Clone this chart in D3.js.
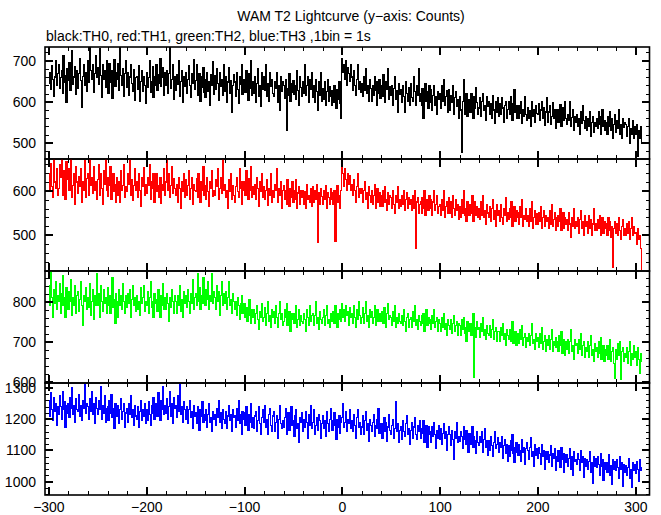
<!DOCTYPE html>
<html><head><meta charset="utf-8">
<script src="https://cdn.jsdelivr.net/npm/d3@7"></script>
<style>body{margin:0;background:#fff} text{font-family:"Liberation Sans",Arial,Helvetica,sans-serif;}</style>
</head><body>
<svg id="c" width="661" height="515"></svg>
<script>
const title = "WAM T2 Lightcurve (y\u2212axis: Counts)";
const subtitle = "black:TH0, red:TH1, green:TH2, blue:TH3 ,1bin = 1s";
const binStart = -300;   // time of first bin (s)
const binSize = 1;       // s
const xTicks = [-300,-200,-100,0,100,200,300];
const xTickLabels = ["\u2212300","\u2212200","\u2212100","0","100","200","300"];
const yTicksTH0 = [500,600,700];
const yTicksTH1 = [500,600];
const yTicksTH2 = [600,700,800];
const yTicksTH3 = [1000,1100,1200,1300];

const th0 = [
645,672,630,688,655,612,660,701,640,668,
690,632,658,675,620,711,648,663,598,680,
652,695,628,670,724,641,660,685,617,676,
633,668,704,651,587,662,690,640,672,625,
700,648,731,676,655,690,622,668,712,659,
682,641,729,663,610,690,655,676,634,700,
668,620,692,648,675,607,660,702,638,671,
655,693,627,735,664,640,681,612,668,699,
636,672,615,660,690,644,625,677,603,658,
662,630,688,601,650,676,625,660,640,595,
671,634,659,700,622,648,685,610,662,640,
690,628,667,645,705,638,660,682,615,672,
640,676,620,668,735,632,655,690,606,660,
628,665,642,700,612,650,676,598,660,638,
672,620,655,688,640,610,668,645,703,630,
652,690,615,640,668,601,660,635,682,622,
610,655,672,625,648,590,666,640,697,618,
663,630,680,644,604,670,638,655,615,690,
625,660,598,648,684,620,652,573,640,667,
648,612,670,630,595,660,642,690,618,635,
655,622,675,640,604,668,632,700,615,650,
620,662,598,645,680,612,640,588,670,630,
660,628,690,614,645,600,672,638,655,620,
612,650,633,672,598,640,580,660,625,648,
640,608,655,530,632,615,668,600,645,622,
652,618,640,605,676,628,590,660,635,612,
648,620,690,615,640,660,598,655,630,672,
610,640,598,655,625,580,648,615,670,600,
632,605,648,590,625,655,600,638,612,590,
628,598,640,612,585,630,605,650,595,560,
705,672,690,655,700,640,684,668,650,690,
660,628,675,640,615,655,690,630,648,622,
645,612,660,628,680,620,640,600,655,632,
600,640,615,660,628,590,648,620,655,608,
640,612,665,625,598,650,630,680,605,638,
615,640,590,632,660,605,628,575,645,618,
630,598,640,612,575,650,620,600,635,590,
645,610,600,660,625,590,640,615,680,600,
620,590,632,560,615,645,600,625,585,640,
598,630,580,615,640,590,612,570,625,605,
620,585,640,600,655,590,612,628,575,630,
580,615,598,640,570,610,625,588,605,560,
612,580,478,600,655,570,595,620,565,600,
605,575,620,590,560,612,585,635,598,570,
585,610,565,600,620,578,590,555,612,588,
600,570,595,560,615,580,548,600,575,610,
565,595,570,610,585,550,590,600,560,582,
600,570,612,580,555,595,630,575,590,560,
560,590,572,600,548,580,565,612,570,555,
585,560,578,540,600,565,580,550,590,572,
570,595,555,580,600,560,585,542,575,610,
550,575,590,545,565,598,560,580,535,570,
580,550,570,592,540,565,585,555,600,560,
545,570,555,600,540,562,580,530,565,550,
570,540,560,520,575,548,590,555,535,565,
530,560,540,575,515,550,565,525,550,540,
560,535,575,545,520,565,580,540,555,530,
550,520,565,540,575,530,560,510,545,570,
525,555,535,580,520,545,510,560,538,550,
545,515,540,560,500,535,520,555,510,540,
520,545,468,530,510,540,500];

const th1 = [
640,598,662,610,585,672,620,605,650,590,
605,660,630,672,590,645,618,580,665,625,
650,600,628,672,585,612,640,570,655,620,
595,632,610,650,575,620,600,668,585,628,
640,590,672,612,630,595,655,600,620,580,
625,660,590,640,605,570,645,615,672,600,
588,630,612,655,580,620,640,598,615,575,
630,590,620,575,645,600,612,660,585,610,
598,640,615,672,590,625,578,612,650,600,
620,585,640,600,565,630,610,652,590,615,
595,630,612,660,580,620,605,640,575,618,
640,598,612,585,630,572,615,600,650,590,
620,672,600,638,585,612,655,595,628,605,
590,615,575,630,605,560,622,598,640,585,
625,590,612,645,580,605,630,570,615,600,
598,628,585,640,610,575,620,600,655,590,
612,580,630,598,565,620,605,645,588,600,
590,625,610,650,580,605,630,595,672,600,
615,585,600,560,625,598,640,580,612,590,
575,610,630,598,585,650,605,570,620,600,
620,590,645,605,580,628,600,655,585,610,
592,615,580,630,605,565,620,598,640,585,
610,580,600,625,568,605,590,640,575,600,
585,615,600,650,575,605,590,622,560,600,
612,580,600,570,625,590,565,605,585,620,
575,600,580,625,560,595,610,570,600,585,
600,570,598,560,615,580,590,575,605,565,
610,575,600,580,615,483,595,570,605,588,
570,600,580,612,560,595,585,570,605,580,
595,570,600,486,580,612,575,590,560,600,
672,640,610,650,625,600,640,615,635,600,
615,590,625,600,575,610,640,585,605,595,
605,575,600,620,580,595,560,610,590,575,
600,570,590,615,560,588,605,575,595,565,
590,565,600,575,610,580,555,595,570,590,
585,560,600,570,548,590,575,610,560,580,
565,590,570,600,555,580,595,560,585,570,
580,555,590,560,600,471,575,585,550,570,
575,550,585,560,600,545,570,580,555,590,
560,580,545,575,600,555,570,590,550,565,
570,545,580,555,600,540,565,575,550,585,
550,575,540,590,560,545,580,555,570,535,
565,540,580,550,600,545,560,530,575,555,
545,570,550,590,530,560,575,545,565,540,
560,535,575,545,590,540,555,525,570,550,
540,565,530,560,580,535,555,520,570,545,
555,530,570,540,525,560,545,585,530,550,
535,560,540,575,520,550,565,530,555,540,
550,525,565,540,580,520,545,535,560,530,
545,520,560,530,575,515,540,555,525,548,
525,550,530,565,515,540,555,520,545,530,
540,515,555,525,570,520,535,550,510,540,
520,545,530,560,510,535,550,515,540,525,
535,510,550,525,495,540,520,560,515,530,
520,540,505,535,555,515,530,500,545,520,
530,505,545,515,535,500,525,560,510,525,
510,535,515,545,500,525,540,505,530,515,
525,500,540,510,530,495,520,427,515,530,
505,525,500,540,510,490,520,535,500,515,
500,525,505,530,490,515,540,500,520,505,
505,480,515,490,500,470,422];

const th2 = [
840,790,875,810,760,830,795,850,780,815,
800,845,770,820,865,790,810,760,835,805,
780,825,800,855,765,810,790,840,770,815,
825,775,805,850,790,740,815,800,835,780,
810,785,845,765,800,830,755,815,790,870,
790,820,760,840,800,775,830,795,810,770,
835,790,815,770,800,860,785,805,745,820,
800,760,830,790,815,780,845,800,770,815,
785,820,795,830,760,805,840,790,810,775,
815,780,800,765,835,795,810,840,775,800,
790,825,770,810,850,785,800,760,820,795,
805,775,830,795,760,815,790,845,780,810,
780,820,795,750,810,785,830,800,770,815,
800,770,815,790,840,775,805,760,825,795,
815,785,830,800,770,820,795,855,780,810,
820,790,870,800,835,780,815,795,860,805,
790,830,805,850,780,815,800,870,795,825,
810,780,840,800,825,765,815,850,790,820,
795,825,780,810,850,790,805,770,820,800,
780,800,765,810,790,755,795,815,770,790,
795,760,785,750,775,805,765,745,780,760,
780,745,770,790,755,730,775,760,795,750,
760,785,740,770,800,750,765,735,780,760,
775,745,790,760,735,770,800,755,770,740,
750,780,760,795,740,765,775,725,770,755,
770,745,760,790,735,755,780,740,765,750,
745,770,755,725,780,760,740,790,750,765,
770,740,765,800,745,760,730,775,755,745,
760,780,740,765,790,745,755,735,770,760,
750,775,745,790,760,735,770,755,780,750,
795,760,780,750,790,765,775,740,785,760,
770,745,790,760,735,780,755,800,765,745,
760,785,745,770,800,750,765,735,780,760,
775,745,760,790,740,765,780,750,770,755,
750,775,745,785,760,735,770,795,755,765,
760,740,775,750,790,735,760,745,770,750,
745,765,740,780,750,725,760,770,735,755,
760,735,775,750,790,740,755,730,765,750,
740,765,745,770,725,755,780,740,760,745,
755,730,765,745,780,735,750,760,725,755,
745,725,760,735,770,730,745,715,755,740,
730,755,720,745,765,725,740,750,715,745,
740,715,755,730,760,720,735,700,750,730,
725,745,715,740,770,612,735,710,750,730,
735,710,745,725,760,715,730,705,740,720,
715,740,710,730,755,705,725,735,700,725,
725,700,735,715,745,705,720,690,730,715,
705,730,700,720,750,695,715,725,690,720,
715,695,730,705,740,690,710,720,685,710,
700,720,690,715,745,695,705,680,720,700,
710,685,720,695,735,680,700,715,675,705,
690,715,680,705,730,675,700,690,710,685,
700,675,715,690,725,670,695,705,665,700,
680,705,670,700,730,675,690,655,705,690,
695,670,705,680,720,665,690,700,660,685,
675,700,660,690,715,665,680,650,695,675,
685,660,700,670,710,655,680,690,650,680,
665,690,655,680,705,650,675,685,645,608,
680,655,695,665,700,605,675,685,650,670,
660,685,645,675,700,640,670,655,690,660,
675,640,685,655,620,670,650];

const th3 = [
1260,1210,1285,1230,1195,1270,1225,1250,1180,1240,
1215,1275,1240,1200,1290,1230,1255,1175,1245,1220,
1250,1205,1270,1235,1300,1215,1245,1190,1265,1230,
1225,1280,1210,1245,1195,1260,1235,1310,1220,1250,
1240,1200,1265,1225,1290,1215,1250,1185,1270,1235,
1215,1260,1230,1305,1200,1245,1220,1275,1190,1235,
1240,1195,1260,1220,1280,1205,1235,1170,1250,1225,
1210,1245,1185,1230,1265,1200,1225,1250,1175,1220,
1235,1190,1250,1215,1275,1205,1230,1180,1245,1210,
1200,1240,1175,1225,1260,1195,1230,1210,1250,1185,
1230,1195,1255,1215,1180,1245,1220,1270,1200,1235,
1250,1210,1285,1225,1195,1260,1230,1305,1215,1245,
1220,1265,1200,1240,1290,1210,1250,1185,1270,1235,
1245,1205,1275,1225,1310,1215,1240,1190,1255,1230,
1200,1240,1185,1230,1260,1205,1225,1170,1245,1210,
1220,1185,1240,1200,1165,1230,1210,1255,1190,1215,
1195,1230,1175,1215,1250,1190,1205,1160,1225,1200,
1215,1180,1235,1205,1260,1190,1220,1170,1230,1200,
1185,1225,1170,1210,1245,1195,1215,1160,1230,1205,
1210,1175,1235,1195,1260,1185,1215,1150,1225,1200,
1220,1180,1240,1195,1165,1215,1190,1250,1175,1205,
1170,1210,1225,1160,1195,1240,1185,1150,1205,1230,
1190,1245,1175,1200,1150,1215,1235,1180,1160,1210,
1225,1160,1190,1210,1140,1200,1245,1185,1170,1195,
1175,1205,1235,1150,1190,1220,1165,1200,1240,1180,
1195,1145,1210,1230,1170,1185,1125,1205,1190,1220,
1160,1200,1175,1225,1190,1140,1215,1180,1245,1170,
1190,1230,1150,1180,1205,1165,1215,1195,1140,1185,
1210,1170,1195,1145,1225,1185,1160,1200,1235,1175,
1165,1195,1220,1180,1135,1200,1175,1210,1155,1190,
1205,1250,1175,1190,1225,1160,1200,1185,1230,1170,
1195,1160,1215,1180,1140,1205,1230,1175,1190,1150,
1175,1210,1150,1195,1225,1165,1185,1130,1200,1180,
1160,1190,1215,1145,1180,1200,1170,1235,1155,1175,
1185,1140,1170,1205,1160,1190,1130,1175,1215,1165,
1150,1180,1200,1140,1170,1255,1160,1185,1125,1165,
1175,1135,1195,1160,1145,1185,1210,1150,1170,1120,
1165,1190,1140,1175,1205,1150,1135,1180,1160,1195,
1140,1170,1155,1195,1125,1160,1180,1110,1175,1150,
1160,1125,1175,1145,1190,1150,1105,1165,1140,1180,
1135,1170,1120,1155,1185,1140,1160,1100,1150,1175,
1150,1115,1165,1135,1070,1160,1140,1190,1125,1145,
1130,1160,1145,1105,1175,1135,1120,1165,1145,1095,
1155,1120,1140,1175,1110,1145,1130,1090,1160,1125,
1115,1145,1125,1160,1095,1135,1170,1110,1130,1085,
1130,1100,1145,1115,1080,1125,1160,1105,1120,1140,
1095,1125,1110,1145,1075,1115,1135,1090,1120,1065,
1115,1080,1130,1100,1150,1090,1060,1110,1125,1095,
1085,1120,1100,1065,1135,1095,1110,1055,1105,1125,
1100,1070,1110,1140,1080,1095,1050,1120,1085,1105,
1075,1110,1090,1055,1120,1080,1100,1040,1095,1070,
1095,1060,1085,1115,1050,1090,1075,1105,1035,1080,
1065,1100,1080,1045,1110,1070,1090,1030,1085,1060,
1085,1050,1075,1105,1040,1080,1020,1095,1065,1070,
1055,1090,1070,1035,1100,1060,1080,1015,1075,1050,
1070,1040,1065,1095,1030,1060,995,1080,1050,1075,
1045,1080,1055,1020,1090,1050,1070,1005,1060,1040,
1060,1030,1055,1085,1020,1050,990,1070,1040,1065,
1035,1070,1045,1010,1080,1040,1060,985,1055,1030,
1050,1020,1045,1075,1010,1040,980,1060,1035,1055,
1025,1065,1040,1000,1070,1035,1045];

const panelDefs = [
  {values: th0, color: "#000000", domain: [461, 733], ticks: yTicksTH0},
  {values: th1, color: "#ff0000", domain: [419, 672], ticks: yTicksTH1},
  {values: th2, color: "#00ff00", domain: [597, 877], ticks: yTicksTH2},
  {values: th3, color: "#0000ff", domain: [957, 1316], ticks: yTicksTH3}
];

const W = 661, H = 515;
const left = 45, right = 649.5, top0 = 47, panelH = 112;
const svg = d3.select("#c");
svg.append("rect").attr("width", W).attr("height", H).attr("fill", "#fff");

const x = d3.scaleLinear().domain([-304, 314]).range([left, right]);

svg.append("text").attr("x", 351).attr("y", 21).attr("text-anchor", "middle")
  .attr("font-size", 14).text(title);
svg.append("text").attr("x", 46).attr("y", 41).attr("text-anchor", "start")
  .attr("font-size", 14).text(subtitle);

const xMinor = d3.range(-300, 311, 20).filter(v => v % 100 !== 0);

panelDefs.forEach((p, k) => {
  const y0 = top0 + k * panelH, y1 = y0 + panelH;
  const y = d3.scaleLinear().domain(p.domain).range([y1, y0]);
  const g = svg.append("g");
  const cid = "clip" + k;
  svg.append("defs").append("clipPath").attr("id", cid)
    .append("rect").attr("x", left).attr("y", y0).attr("width", right - left).attr("height", panelH);

  const line = d3.line()
    .x((d, i) => x(binStart + i * binSize))
    .y(d => y(d))
    .curve(d3.curveStep);
  g.append("path").datum(p.values)
    .attr("clip-path", `url(#${cid})`)
    .attr("fill", "none").attr("stroke", p.color).attr("stroke-width", 1.2)
    .attr("shape-rendering", "crispEdges")
    .attr("d", line);

  g.append("rect").attr("x", left).attr("y", y0).attr("width", right - left).attr("height", panelH)
    .attr("fill", "none").attr("stroke", "#000").attr("stroke-width", 1.6);

  const minorY = d3.range(Math.ceil(p.domain[0] / 20) * 20, p.domain[1], 20).filter(v => v % 100 !== 0);
  const ax = g.append("g").attr("stroke", "#000").attr("shape-rendering", "crispEdges");
  p.ticks.forEach(v => {
    const yy = Math.round(y(v));
    ax.append("line").attr("x1", left).attr("x2", left + 8).attr("y1", yy).attr("y2", yy).attr("stroke-width", 2);
    ax.append("line").attr("x1", right - 8).attr("x2", right).attr("y1", yy).attr("y2", yy).attr("stroke-width", 2);
  });
  minorY.forEach(v => {
    const yy = Math.round(y(v));
    ax.append("line").attr("x1", left).attr("x2", left + 4).attr("y1", yy).attr("y2", yy).attr("stroke-width", 1);
    ax.append("line").attr("x1", right - 4).attr("x2", right).attr("y1", yy).attr("y2", yy).attr("stroke-width", 1);
  });
  xTicks.forEach(v => {
    const xx = Math.round(x(v));
    ax.append("line").attr("x1", xx).attr("x2", xx).attr("y1", y0).attr("y2", y0 + 8).attr("stroke-width", 2);
    ax.append("line").attr("x1", xx).attr("x2", xx).attr("y1", y1 - 8).attr("y2", y1).attr("stroke-width", 2);
  });
  xMinor.forEach(v => {
    const xx = Math.round(x(v));
    ax.append("line").attr("x1", xx).attr("x2", xx).attr("y1", y0).attr("y2", y0 + 4).attr("stroke-width", 1);
    ax.append("line").attr("x1", xx).attr("x2", xx).attr("y1", y1 - 4).attr("y2", y1).attr("stroke-width", 1);
  });
  p.ticks.forEach(v => {
    svg.append("text").attr("x", 36).attr("y", y(v)).attr("dy", "0.36em")
      .attr("text-anchor", "end").attr("font-size", 14).text(v);
  });
  if (k === panelDefs.length - 1) {
    xTicks.forEach((v, i) => {
      svg.append("text").attr("x", x(v)).attr("y", 512).attr("text-anchor", "middle")
        .attr("font-size", 14).text(xTickLabels[i]);
    });
  }
});
</script>
</body></html>
